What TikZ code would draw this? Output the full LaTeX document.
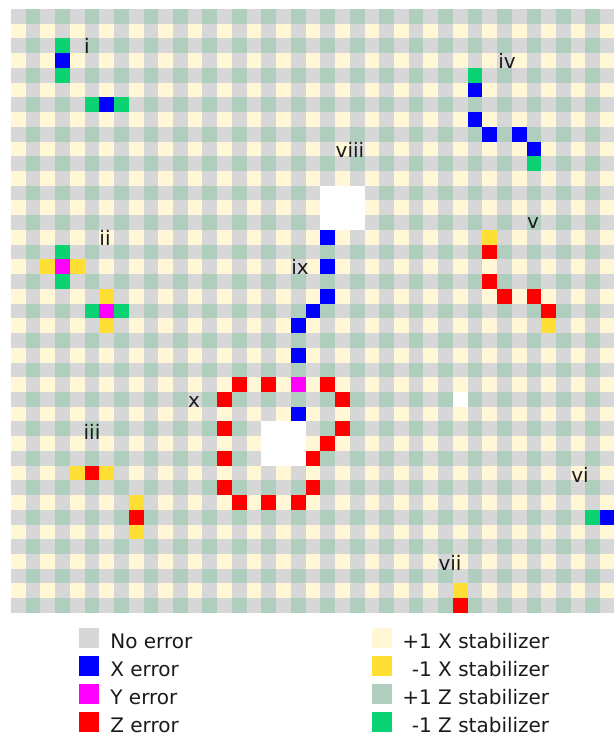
\documentclass[tikz,border=0pt]{standalone}
\usepackage{fontspec}
\setmainfont{DejaVu Sans}

\definecolor{cNo}{HTML}{D7D7D7}
\definecolor{cXplus}{HTML}{FFF7D6}
\definecolor{cXminus}{HTML}{FFDF33}
\definecolor{cZplus}{HTML}{B0CEBE}
\definecolor{cZminus}{HTML}{0BD273}
\definecolor{cXerr}{HTML}{0000FF}
\definecolor{cYerr}{HTML}{FF00FF}
\definecolor{cZerr}{HTML}{FF0000}
\definecolor{cText}{HTML}{1A1A1A}

\tikzset{
  lab/.style={anchor=base, inner sep=0, text=cText},
  swatch/.style={minimum size=10pt, inner sep=0},
  legtext/.style={anchor=base west, inner sep=0, text=cText}
}

\begin{document}
\begin{tikzpicture}[x=0.5pt, y=-0.5pt, font=\fontsize{10pt}{12pt}\selectfont]
\useasboundingbox (0,0) rectangle (614,735);

% lattice
\begin{scope}[shift={(11,9)}, x=7.365pt, y=-7.365pt]
\fill[cNo] (0,0) rectangle (41,41);
\foreach \r in {0,2,...,40}
  \foreach \c in {1,3,...,39}
    \fill[cZplus] (\c,\r) rectangle ++(1,1);
\foreach \r in {1,3,...,39}
  \foreach \c in {0,2,...,40}
    \fill[cXplus] (\c,\r) rectangle ++(1,1);

% flipped stabilizers
\foreach \c/\r in {3/2,3/4,5/6,7/6,31/4,35/10,3/16,3/18,5/20,7/20,39/34}
  \fill[cZminus] (\c,\r) rectangle ++(1,1);
\foreach \c/\r in {2/17,4/17,6/19,6/21,32/15,36/21,4/31,6/31,8/33,8/35,30/39}
  \fill[cXminus] (\c,\r) rectangle ++(1,1);

% errors
\foreach \c/\r in {3/3,6/6,31/5,31/7,32/8,34/8,35/9,21/15,21/17,21/19,20/20,19/21,19/23,19/27,40/34}
  \fill[cXerr] (\c,\r) rectangle ++(1,1);
\foreach \c/\r in {3/17,6/20,19/25}
  \fill[cYerr] (\c,\r) rectangle ++(1,1);
\foreach \c/\r in {32/16,32/18,33/19,35/19,36/20,5/31,8/34,30/40,15/25,17/25,21/25,14/26,22/26,14/28,22/28,21/29,14/30,20/30,14/32,20/32,15/33,17/33,19/33}
  \fill[cZerr] (\c,\r) rectangle ++(1,1);

% holes
\fill[white] (21,12) rectangle (24,15);
\fill[white] (17,28) rectangle (20,31);
\fill[white] (30,26) rectangle (31,27);
\end{scope}

\node[lab] (li) at (87,53) {i};
\node[lab] (lii) at (105,245) {ii};
\node[lab] (liii) at (92,439) {iii};
\node[lab] (liv) at (507,68) {iv};
\node[lab] (lv) at (533,228) {v};
\node[lab] (lvi) at (580,482) {vi};
\node[lab] (lvii) at (450,570) {vii};
\node[lab] (lviii) at (350,157) {viii};
\node[lab] (lix) at (300,274) {ix};
\node[lab] (lx) at (194,407) {x};

% legend
\foreach \y/\col/\txt in {0/cNo/No error, 1/cXerr/X error, 2/cYerr/Y error, 3/cZerr/Z error} {
  \node[swatch, fill=\col] (ke\y) at (89,638+28*\y) {};
  \node[legtext] (te\y) at (110,648+28*\y) {\txt};
}
\foreach \y/\col/\txt in {0/cXplus/+1 X stabilizer, 1/cXminus/\phantom{+}\llap{-}1 X stabilizer, 2/cZplus/+1 Z stabilizer, 3/cZminus/\phantom{+}\llap{-}1 Z stabilizer} {
  \node[swatch, fill=\col] (ks\y) at (382,638+28*\y) {};
  \node[legtext] (ts\y) at (402,648+28*\y) {\txt};
}
\end{tikzpicture}
\end{document}
